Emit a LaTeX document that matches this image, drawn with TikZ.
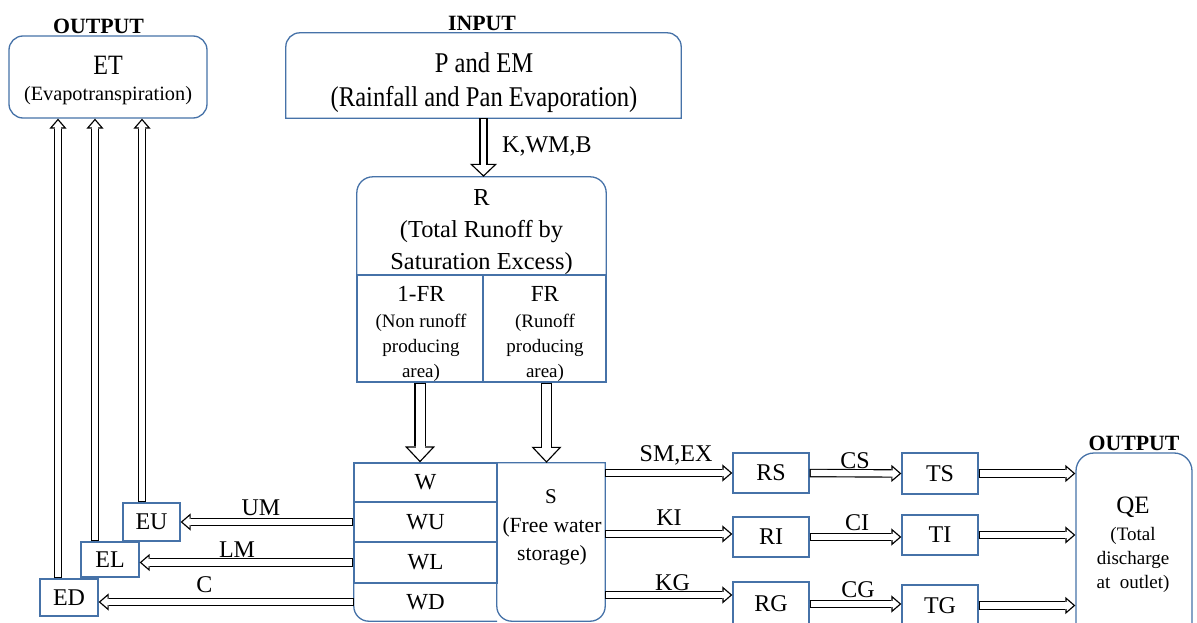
\documentclass[tikz,border=0pt]{standalone}
\usepackage{fontspec}
\setmainfont{Liberation Serif}
\newfontfamily\condfont[FakeStretch=0.86]{Liberation Serif}
\usetikzlibrary{arrows.meta}
\definecolor{boxblue}{RGB}{70,114,168}
\newcommand\setsz[2]{\fontsize{#1}{#2}\selectfont}
\tikzset{
  boxline/.style={draw=boxblue, line width=1.3pt},
  box/.style={boxline, fill=white, inner sep=0pt},
  txt/.style={inner sep=0pt, align=center, anchor=north},
  lbl/.style={inner sep=0pt, anchor=base, font=\setsz{24}{28}},
  head/.style={inner sep=0pt, anchor=base, font=\bfseries\setsz{21.8}{26}},
  % hollow block arrow: inner gap, head width, head length
  hollow/.style n args={3}{draw=black, line width=#1+2.3pt, shorten >=#3,
    preaction={draw=white, line width=0.2pt, shorten >=0pt,
      -{Triangle[open, color=black, fill=white, line width=1.15pt 0, width=#2 0, length=#3 0 0]}},
    postaction={draw=white, line width=#1, shorten >=#3-1.6pt, shorten <=1.2pt}},
  flow/.style={hollow={6.2pt}{17pt}{10pt}},
  drop/.style={hollow={9pt}{30pt}{16pt}},
}

\begin{document}
\begin{tikzpicture}[x=1pt, y=-1pt]
  \useasboundingbox (0,0) rectangle (1197,623);
  \clip (0,0) rectangle (1197,623);
  \fill[white] (0,0) rectangle (1197,623);

  % evapotranspiration output
  \node[head] (outl) at (98.5,33.5) {OUTPUT};
  \node[box, rounded corners=14pt, minimum width=198pt, minimum height=82pt] (et) at (108,77) {};
  \node[inner sep=0pt, anchor=base, font=\condfont\setsz{28}{30}] (ett) at (108,74.5) {ET};
  \node[inner sep=0pt, anchor=base, font=\setsz{20.3}{24}] (ets) at (108,101) {(Evapotranspiration)};

  % input
  \node[head] (inl) at (482,30.5) {INPUT};
  \node[inner sep=0pt, minimum width=395pt, minimum height=85pt] (inp) at (483.5,75.5) {};
  \draw[boxline] (inp.south west) -- ([yshift=-14pt]inp.north west) arc[start angle=180, end angle=90, radius=14pt]
    -- ([xshift=-14pt]inp.north east) arc[start angle=90, end angle=0, radius=14pt] -- (inp.south east) -- cycle;
  \node[txt, font=\condfont\setsz{28.6}{34.3}] (inpt) at (484,52.2) {P and EM\\(Rainfall and Pan Evaporation)};

  % runoff generation
  \node[inner sep=0pt, minimum width=249pt, minimum height=98pt] (rr) at (481.5,226) {};
  \draw[boxline] (rr.south west) -- ([yshift=-16pt]rr.north west) arc[start angle=180, end angle=90, radius=16pt]
    -- ([xshift=-16pt]rr.north east) arc[start angle=90, end angle=0, radius=16pt] -- (rr.south east);
  \node[txt, font=\setsz{24.4}{32}] (rrt) at (481.5,189) {R\\(Total Runoff by\\Saturation Excess)};
  \node[box, minimum width=126pt, minimum height=107pt] (nfr) at (420,328.5) {};
  \node[box, minimum width=123pt, minimum height=107pt] (fr) at (544.5,328.5) {};
  \node[lbl, font=\setsz{23}{27}] (nfrt) at (421,301) {1-FR};
  \node[txt, font=\setsz{19}{25}] (nfrs) at (421,314) {(Non runoff\\producing\\area)};
  \node[lbl, font=\setsz{23}{27}] (frt) at (545,301) {FR};
  \node[txt, font=\setsz{19}{25}] (frs) at (545,314) {(Runoff\\producing\\area)};

  % soil moisture and free water storage
  \node[box, font=\setsz{23}{27}, minimum width=143pt, minimum height=39pt] (w) at (425.5,482.5) {W};
  \node[box, font=\setsz{23}{27}, minimum width=143pt, minimum height=40pt] (wu) at (425.5,522) {WU};
  \node[box, font=\setsz{23}{27}, minimum width=143pt, minimum height=41pt] (wl) at (425.5,562.5) {WL};
  \node[inner sep=0pt, font=\setsz{23}{27}, minimum width=143pt, minimum height=38pt] (wd) at (425.5,602) {WD};
  \draw[boxline] (wd.north west) -- ([yshift=15pt]wd.south west) arc[start angle=180, end angle=270, radius=15pt] -- (wd.south east);
  \node[inner sep=0pt, minimum width=108pt, minimum height=158pt] (s) at (551,542) {};
  \draw[boxline] (s.north west) -- ([yshift=15pt]s.south west) arc[start angle=180, end angle=270, radius=15pt]
    -- ([xshift=-15pt]s.south east) arc[start angle=270, end angle=360, radius=15pt] -- (s.north east) -- cycle;
  \node[lbl, font=\setsz{21}{25}] (st) at (551,503) {S};
  \node[txt, font=\setsz{21.6}{28}] (sts) at (552,517) {(Free water\\storage)};

  % evaporation components
  \node[box, font=\setsz{24}{28}, minimum width=57pt, minimum height=38pt] (eu) at (151.5,522) {EU};
  \node[box, font=\setsz{24}{28}, minimum width=58pt, minimum height=35pt] (el) at (110,559.5) {EL};
  \node[box, font=\setsz{24}{28}, minimum width=58pt, minimum height=37pt] (ed) at (69,597.5) {ED};

  % runoff components and routing
  \node[box, font=\setsz{24}{28}, minimum width=76pt, minimum height=40pt] (rs) at (771,473) {RS};
  \node[box, font=\setsz{24}{28}, minimum width=76pt, minimum height=40pt] (ri) at (771,537) {RI};
  \node[box, font=\setsz{24}{28}, minimum width=76pt, minimum height=44pt] (rg) at (771,604) {RG};
  \node[box, font=\setsz{24}{28}, minimum width=76pt, minimum height=41pt] (ts) at (940,473.5) {TS};
  \node[box, font=\setsz{24}{28}, minimum width=76pt, minimum height=40pt] (ti) at (940,535) {TI};
  \node[box, font=\setsz{24}{28}, minimum width=76pt, minimum height=41pt] (tg) at (940,605.5) {TG};

  % discharge output
  \node[head] (outr) at (1134,450) {OUTPUT};
  \node[box, rounded corners=18pt, minimum width=116pt, minimum height=197pt] (qe) at (1134,551.5) {};
  \node[lbl, font=\setsz{25}{29}] (qet) at (1133,513) {QE};
  \node[txt, font=\setsz{19}{24}] (qes) at (1133,527) {(Total\\discharge\\at~ outlet)};

  % arrows
  \draw[hollow={5.8pt}{27pt}{13pt}] (inp.south) -- (inp.south |- rr.north);
  \node[lbl, anchor=base west] (kwb) at (502,153) {K,WM,B};
  \draw[drop] (nfr.south) -- (nfr.south |- w.north);
  \draw[drop] ([xshift=2pt]fr.south) -- ([xshift=2pt]fr.south |- s.north);

  \draw[flow] (wu.west) -- (eu.east);
  \draw[flow] (wl.west) -- (wl.west -| el.east);
  \draw[flow] (wd.west) -- (wd.west -| ed.east);
  \draw[flow] ([xshift=-9.5pt]eu.north) -- ([xshift=-9.5pt]eu.north |- et.south);
  \draw[flow] ([xshift=-15pt]el.north) -- ([xshift=-15pt]el.north |- et.south);
  \draw[flow] ([xshift=-11pt]ed.north) -- ([xshift=-11pt]ed.north |- et.south);
  \node[lbl] (um) at (261,515) {UM};
  \node[lbl] (lm) at (237,557) {LM};
  \node[lbl] (cc) at (204.5,592) {C};

  \draw[flow] (s.east |- rs.west) -- (rs.west);
  \draw[flow] (s.east |- 0,534) -- (ri.west |- 0,534);
  \draw[flow] (s.east |- 0,595) -- (rg.west |- 0,595);
  \node[lbl] (smex) at (676,461) {SM,EX};
  \node[lbl] (ki) at (669,525) {KI};
  \node[lbl] (kg) at (672.5,590) {KG};

  \draw[flow] (rs.east) -- (ts.west);
  \draw[flow] (ri.east) -- (ri.east -| ti.west);
  \draw[flow] (rg.east) -- (rg.east -| tg.west);
  \node[lbl] (cs) at (855,468) {CS};
  \node[lbl] (ci) at (857,530) {CI};
  \node[lbl] (cg) at (858,597) {CG};

  \draw[flow] (ts.east) -- (ts.east -| qe.west);
  \draw[flow] (ti.east) -- (ti.east -| qe.west);
  \draw[flow] (tg.east) -- (tg.east -| qe.west);
\end{tikzpicture}
\end{document}
